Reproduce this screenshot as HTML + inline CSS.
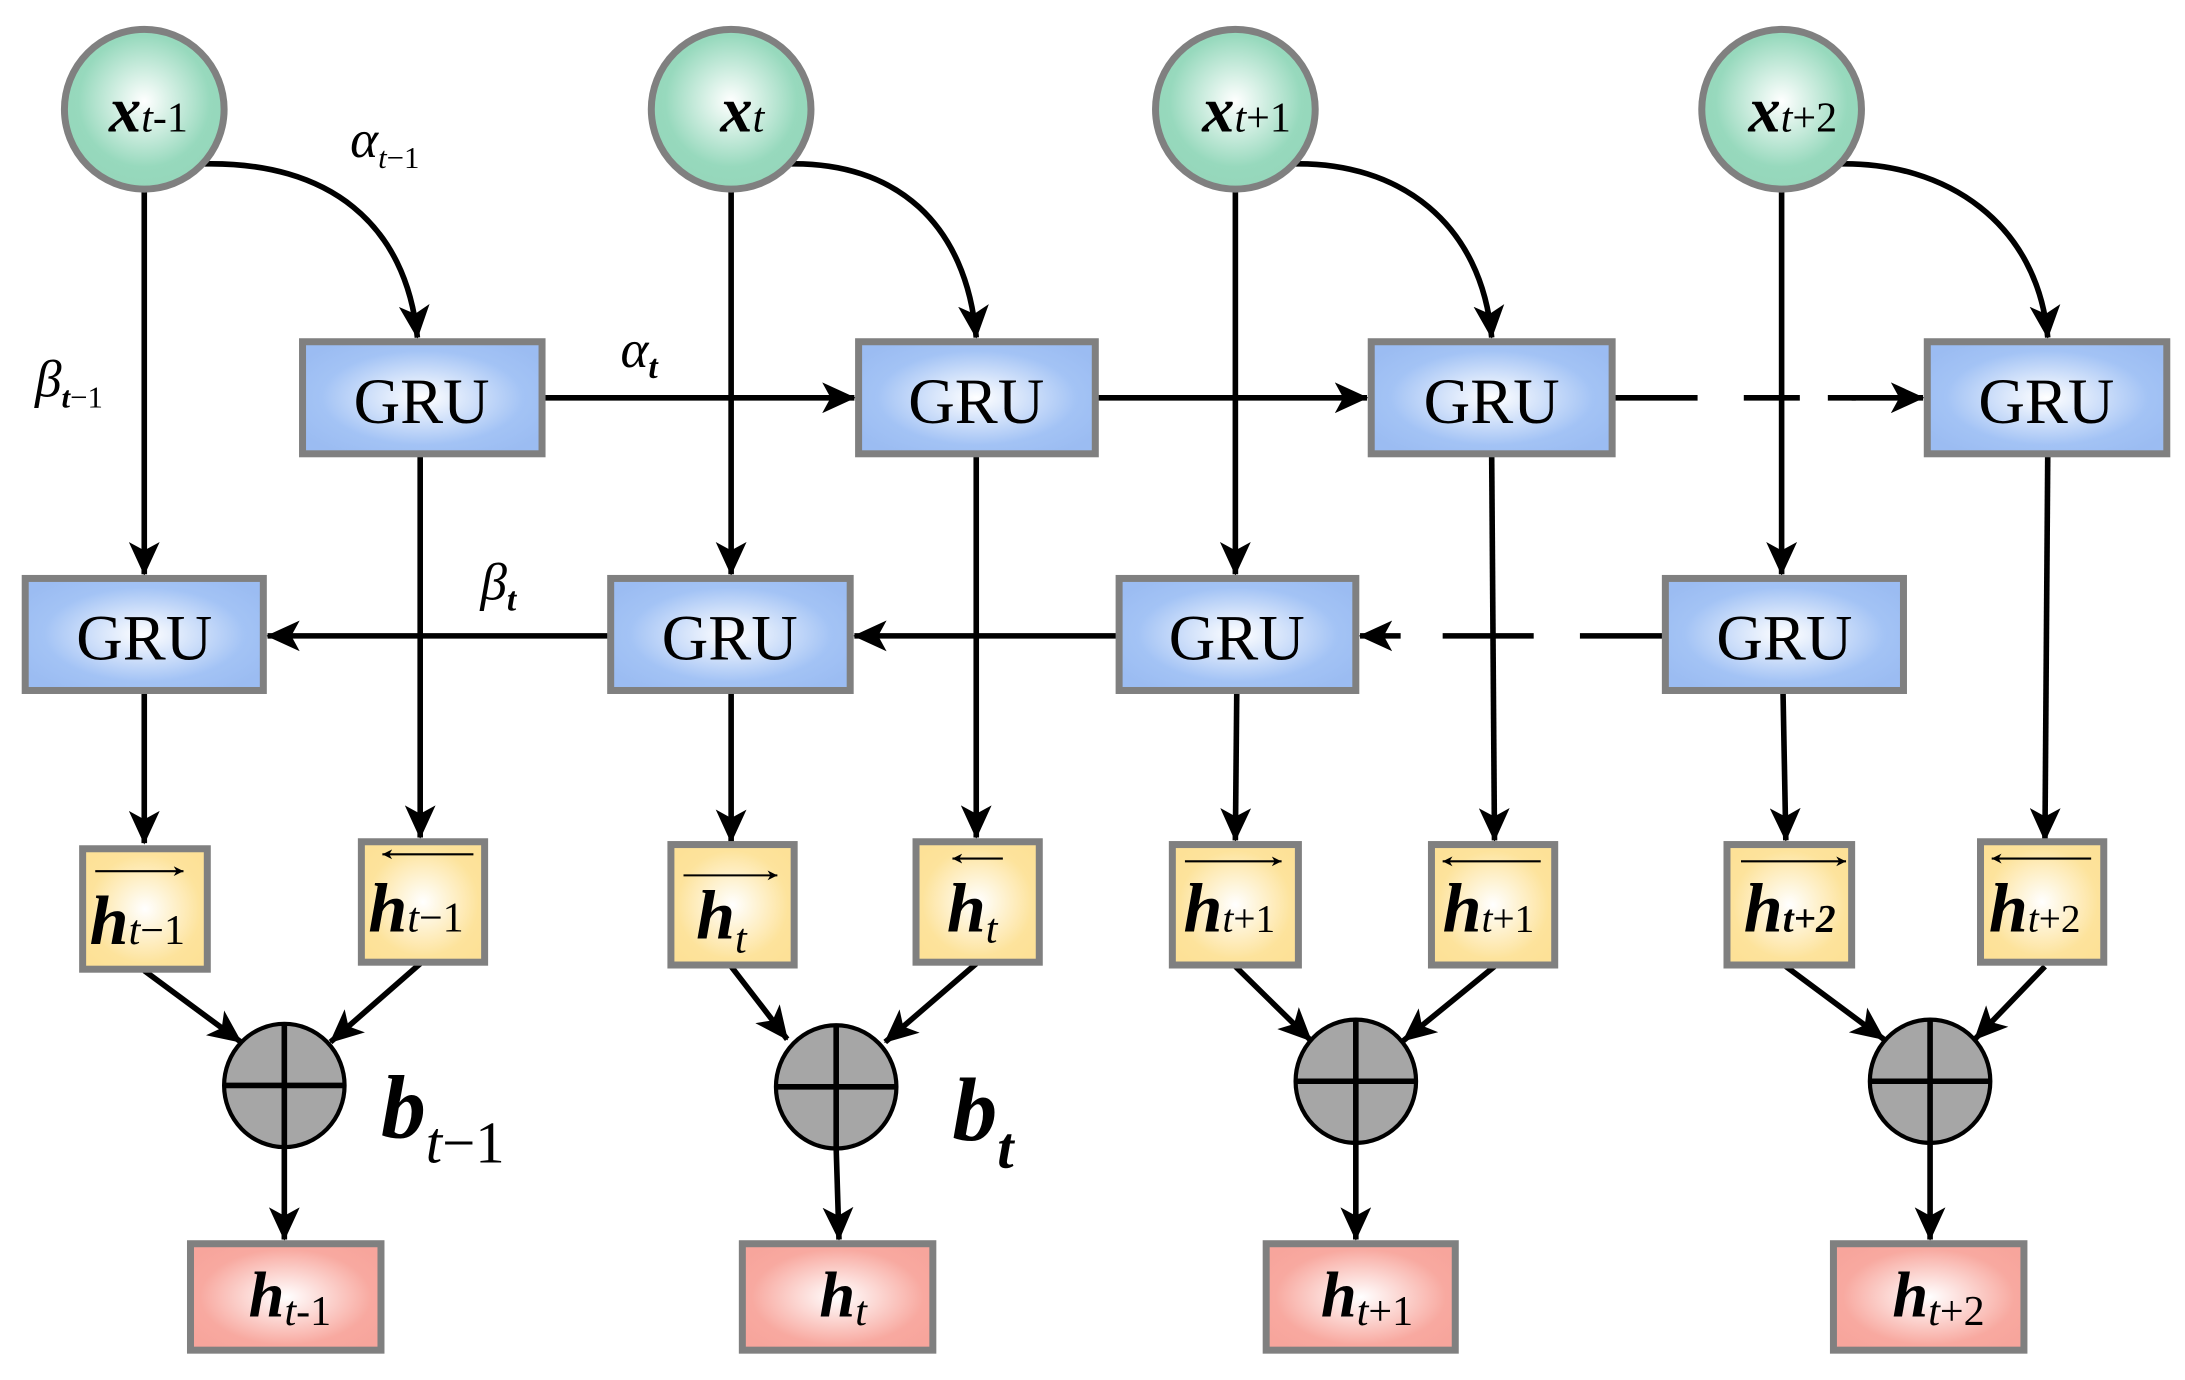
<!DOCTYPE html>
<html><head><meta charset="utf-8"><style>
html,body{margin:0;padding:0;background:#fff;}
svg{display:block;}
text{font-family:"Liberation Serif","DejaVu Serif",serif;}
</style></head><body>
<svg width="2185" height="1380" viewBox="0 0 1560 985.3" preserveAspectRatio="none" xmlns="http://www.w3.org/2000/svg">
<defs>
<radialGradient id="gc" cx="50%" cy="45%" r="55%"><stop offset="0" stop-color="#ffffff"/><stop offset="0.75" stop-color="#97d9bd"/><stop offset="1" stop-color="#95d6ba"/></radialGradient>
<radialGradient id="gb" cx="50%" cy="50%" r="60%"><stop offset="0" stop-color="#ffffff"/><stop offset="0.7" stop-color="#a3c3f5"/><stop offset="1" stop-color="#9bbcf2"/></radialGradient>
<radialGradient id="gy" cx="50%" cy="50%" r="60%"><stop offset="0" stop-color="#ffffff"/><stop offset="0.75" stop-color="#fde39c"/><stop offset="1" stop-color="#fde197"/></radialGradient>
<radialGradient id="gr" cx="50%" cy="50%" r="60%"><stop offset="0" stop-color="#ffffff"/><stop offset="0.75" stop-color="#f8a9a0"/><stop offset="1" stop-color="#f7a59c"/></radialGradient>
<marker id="ah" viewBox="0 0 24 22" refX="23" refY="11" markerWidth="24" markerHeight="22" markerUnits="userSpaceOnUse" orient="auto"><path d="M0,0 L24,11 L0,22 L6,11 Z" fill="#000"/></marker>
<marker id="sa" viewBox="0 0 10 10" refX="10" refY="5" markerWidth="7" markerHeight="7" markerUnits="userSpaceOnUse" orient="auto"><path d="M0,0 L10,5 L0,10 L3,5 Z" fill="#000"/></marker>
</defs>

<g stroke="#000" stroke-width="4" fill="none" marker-end="url(#ah)">
<path d="M145,117 C235,115 290,160 298,241"/>
<path d="M562,117 C640,115 690,160 697,241"/>
<path d="M922,117 C1000,115 1058,160 1065,241"/>
<path d="M1312,117 C1390,115 1455,160 1462,241"/>
<path d="M103,136 V410"/>
<path d="M522,136 V410"/>
<path d="M882,136 V410"/>
<path d="M1272,136 V410"/>
<path d="M388,284 H610"/>
<path d="M783,284 H976"/>
<path d="M1322,284 H1373"/>
<path d="M435,454 H191"/>
<path d="M798,454 H610"/>
<path d="M1000,454 H971"/>
<path d="M300,325 V598"/>
<path d="M697,325 V598"/>
<path d="M1065,325 L1067,600"/>
<path d="M1462,325 L1460,600"/>
<path d="M103,494 V602"/>
<path d="M522,494 V601"/>
<path d="M883,494 L882,600"/>
<path d="M1273,494 L1275,600"/>
<path d="M103,693 L172,744"/>
<path d="M300,688 L236,744"/>
<path d="M522,690 L562,742"/>
<path d="M697,688 L632,744"/>
<path d="M882,690 L936,743"/>
<path d="M1067,690 L1002,743"/>
<path d="M1275,690 L1345,742"/>
<path d="M1460,690 L1410,742"/>
<path d="M203,819 V885"/>
<path d="M597,820 L599,885"/>
<path d="M968,817 V885"/>
<path d="M1378,817 V885"/>
</g>
<g stroke="#000" stroke-width="4">
<path d="M1152,284 H1212 M1245,284 H1285 M1305,284 H1325"/>
<path d="M1188,454 H1128 M1095,454 H1030"/>
</g>

<g stroke="#808080" stroke-width="5" fill="url(#gc)">
<circle cx="103" cy="78" r="57"/><circle cx="522" cy="78" r="57"/><circle cx="882" cy="78" r="57"/><circle cx="1272" cy="78" r="57"/>
</g>
<g font-size="46" font-style="italic" font-weight="bold" text-anchor="middle">
<text x="106" y="94">x<tspan font-size="30" font-weight="normal">t</tspan><tspan font-size="30" font-weight="normal" font-style="normal">-1</tspan></text>
<text x="530" y="94">x<tspan font-size="30" font-weight="normal">t</tspan></text>
<text x="890" y="94">x<tspan font-size="30" font-weight="normal">t</tspan><tspan font-size="30" font-weight="normal" font-style="normal">+1</tspan></text>
<text x="1280" y="94">x<tspan font-size="30" font-weight="normal">t</tspan><tspan font-size="30" font-weight="normal" font-style="normal">+2</tspan></text>
</g>

<g stroke="#808080" stroke-width="5" fill="url(#gb)">
<rect x="216" y="244" width="171" height="80"/><rect x="613" y="244" width="169" height="80"/><rect x="979" y="244" width="172" height="80"/><rect x="1376" y="244" width="171" height="80"/>
<rect x="18" y="413" width="170" height="80"/><rect x="436" y="413" width="171" height="80"/><rect x="799" y="413" width="169" height="80"/><rect x="1189" y="413" width="170" height="80"/>
</g>
<g font-size="46" text-anchor="middle">
<text x="301" y="302">GRU</text><text x="697" y="302">GRU</text><text x="1065" y="302">GRU</text><text x="1461" y="302">GRU</text>
<text x="103" y="471">GRU</text><text x="521" y="471">GRU</text><text x="883" y="471">GRU</text><text x="1274" y="471">GRU</text>
</g>

<g stroke="#808080" stroke-width="5" fill="url(#gy)">
<rect x="59" y="606" width="89" height="86"/><rect x="258" y="601" width="88" height="86"/>
<rect x="479" y="603" width="88" height="86"/><rect x="654" y="601" width="88" height="86"/>
<rect x="837" y="603" width="90" height="86"/><rect x="1022" y="603" width="88" height="86"/>
<rect x="1233" y="603" width="89" height="86"/><rect x="1414" y="601" width="88" height="86"/>
</g>
<g stroke="#000" stroke-width="1.5" marker-end="url(#sa)">
<path d="M68,622 H131"/><path d="M338,610 H273"/>
<path d="M488,625 H555"/><path d="M716,613 H680"/>
<path d="M846,615 H915"/><path d="M1100,615 H1030"/>
<path d="M1243,615 H1318"/><path d="M1493,613 H1422"/>
</g>
<g font-size="50" font-style="italic" font-weight="bold">
<text x="64" y="674">h<tspan font-size="30" font-weight="normal">t</tspan><tspan font-size="30" font-weight="normal" font-style="normal">−1</tspan></text>
<text x="263" y="665">h<tspan font-size="30" font-weight="normal">t</tspan><tspan font-size="30" font-weight="normal" font-style="normal">−1</tspan></text>
<text x="497" y="670">h<tspan font-size="30" font-weight="normal" dy="10">t</tspan></text>
<text x="676" y="665">h<tspan font-size="30" font-weight="normal" dy="8">t</tspan></text>
<text x="845" y="665">h<tspan font-size="28" font-weight="normal">t</tspan><tspan font-size="28" font-weight="normal" font-style="normal">+1</tspan></text>
<text x="1030" y="665">h<tspan font-size="28" font-weight="normal">t</tspan><tspan font-size="28" font-weight="normal" font-style="normal">+1</tspan></text>
<text x="1245" y="665">h<tspan font-size="28">t+2</tspan></text>
<text x="1420" y="665">h<tspan font-size="28" font-weight="normal">t</tspan><tspan font-size="28" font-weight="normal" font-style="normal">+2</tspan></text>
</g>

<g stroke="#000" stroke-width="3" fill="#a6a6a6">
<ellipse cx="203" cy="775" rx="43" ry="44"/><ellipse cx="597" cy="776" rx="43" ry="44"/><ellipse cx="968" cy="772" rx="43" ry="44"/><ellipse cx="1378" cy="772" rx="43" ry="44"/>
</g>
<g stroke="#000" stroke-width="4">
<path d="M160,775 H246 M203,731 V819"/><path d="M554,776 H640 M597,732 V820"/>
<path d="M925,772 H1011 M968,728 V816"/><path d="M1335,772 H1421 M1378,728 V816"/>
</g>

<g stroke="#808080" stroke-width="5" fill="url(#gr)">
<rect x="136" y="888" width="136" height="76"/><rect x="530" y="888" width="136" height="76"/><rect x="904" y="888" width="135" height="76"/><rect x="1309" y="888" width="136" height="76"/>
</g>
<g font-size="46" font-style="italic" font-weight="bold" text-anchor="middle">
<text x="207" y="940">h<tspan font-size="30" font-weight="normal" dy="6">t</tspan><tspan font-size="30" font-weight="normal" font-style="normal">-1</tspan></text>
<text x="602" y="940">h<tspan font-size="30" font-weight="normal" dy="6">t</tspan></text>
<text x="976" y="940">h<tspan font-size="30" font-weight="normal" dy="6">t</tspan><tspan font-size="30" font-weight="normal" font-style="normal">+1</tspan></text>
<text x="1384" y="940">h<tspan font-size="30" font-weight="normal" dy="6">t</tspan><tspan font-size="30" font-style="normal" font-weight="normal">+2</tspan></text>
</g>

<g font-style="italic">
<text x="250" y="112" font-size="38">α<tspan font-size="22" dy="8">t</tspan><tspan font-size="22" font-style="normal">−1</tspan></text>
<text x="25" y="283" font-size="38">β<tspan font-size="22" dy="8" font-weight="bold">t</tspan><tspan font-size="22" font-style="normal">−1</tspan></text>
<text x="443" y="262" font-size="38">α<tspan font-size="24" dy="8" font-weight="bold">t</tspan></text>
<text x="343" y="428" font-size="38">β<tspan font-size="24" dy="8" font-weight="bold">t</tspan></text>
<text x="272" y="812" font-size="64" font-weight="bold">b<tspan font-size="42" font-weight="normal" dy="18">t</tspan><tspan font-size="42" font-weight="normal" font-style="normal">−1</tspan></text>
<text x="680" y="814" font-size="64" font-weight="bold">b<tspan font-size="42" font-weight="bold" dy="20">t</tspan></text>
</g>
</svg>
</body></html>
